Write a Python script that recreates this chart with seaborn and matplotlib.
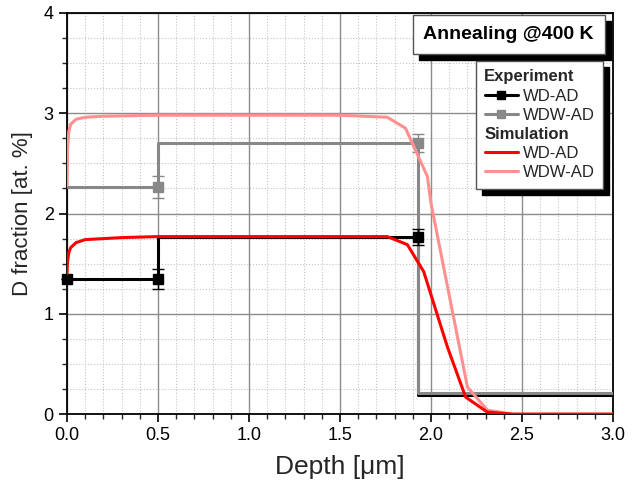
import numpy as np
import pandas as pd
import matplotlib.pyplot as plt
import seaborn as sns
from matplotlib.lines import Line2D
from matplotlib.patches import Rectangle
from matplotlib.ticker import MultipleLocator
from matplotlib import transforms

# experiment (step profiles)
exp_x = [0.0, 0.5, 0.5, 1.93, 1.93, 3.0]
wd_exp = [1.35, 1.35, 1.77, 1.77, 0.19, 0.19]
wdw_exp = [2.26, 2.26, 2.70, 2.70, 0.215, 0.215]

# experiment measured points with error bars
wd_pts_x = [0.0, 0.5, 1.93]
wd_pts_y = [1.35, 1.35, 1.77]
wd_pts_err = [0.0, 0.10, 0.08]
wdw_pts_x = [0.5, 1.93]
wdw_pts_y = [2.26, 2.70]
wdw_pts_err = [0.11, 0.09]

# simulation
sim_wd_x = [0.0, 0.003, 0.01, 0.02, 0.05, 0.1, 0.2, 0.3, 0.5, 1.0, 1.5, 1.76, 1.87, 1.96, 2.09, 2.19, 2.31, 2.45, 3.0]
sim_wd_y = [1.40, 1.52, 1.61, 1.66, 1.71, 1.74, 1.75, 1.76, 1.77, 1.77, 1.77, 1.77, 1.69, 1.42, 0.67, 0.17, 0.02, 0.0, 0.0]
sim_wdw_x = [0.0, 0.003, 0.01, 0.02, 0.05, 0.1, 0.2, 0.5, 1.0, 1.5, 1.76, 1.86, 1.98, 2.0, 2.2, 2.31, 2.45, 3.0]
sim_wdw_y = [2.28, 2.65, 2.82, 2.89, 2.94, 2.96, 2.97, 2.98, 2.98, 2.98, 2.96, 2.85, 2.37, 2.10, 0.27, 0.04, 0.0, 0.0]

headers = ["Experiment", "Simulation"]
series_labels = ["WD-AD", "WDW-AD"]

sns.set_style("ticks")
plt.rcParams['font.family'] = ['Liberation Sans', 'DejaVu Sans']

fig = plt.figure(figsize=(6.32, 4.96), dpi=100)
ax = fig.add_axes([0.106, 0.165, 0.864, 0.809])

red = "#ff0000"
pink = "#ff9090"
gray = "#888888"

sns.lineplot(x=exp_x, y=wd_exp, sort=False, estimator=None, color="black", lw=2.2, ax=ax, zorder=3)
sns.lineplot(x=exp_x, y=wdw_exp, sort=False, estimator=None, color=gray, lw=2.2, ax=ax, zorder=3)

ax.errorbar(wd_pts_x, wd_pts_y, yerr=wd_pts_err, fmt='s', color='black', ms=7,
            capsize=4, elinewidth=1, zorder=4, clip_on=False)
ax.errorbar(wdw_pts_x, wdw_pts_y, yerr=wdw_pts_err, fmt='s', color=gray, ms=7,
            capsize=4, elinewidth=1, zorder=4)

sns.lineplot(x=sim_wdw_x, y=sim_wdw_y, sort=False, estimator=None, color=pink, lw=2.2, ax=ax, zorder=5)
sns.lineplot(x=sim_wd_x, y=sim_wd_y, sort=False, estimator=None, color=red, lw=2.2, ax=ax, zorder=5)

ax.set_xlim(0, 3.0)
ax.set_ylim(0, 4)
ax.xaxis.set_major_locator(MultipleLocator(0.5))
ax.xaxis.set_minor_locator(MultipleLocator(0.1))
ax.yaxis.set_major_locator(MultipleLocator(1))
ax.yaxis.set_minor_locator(MultipleLocator(0.25))
ax.set_xticklabels([f"{v:.1f}" for v in ax.get_xticks()])
ax.grid(which='major', color='#8c8c8c', lw=1, ls='-')
ax.grid(which='minor', color='#c4c4c4', lw=0.8, ls=':')
ax.set_axisbelow(True)
for s in ax.spines.values():
    s.set_linewidth(1.3)
    s.set_color('black')
ax.tick_params(which='major', direction='out', length=6, width=1.2, labelsize=13, colors='black')
ax.tick_params(which='minor', direction='out', length=3.5, width=1)

ax.set_xlabel("Depth [\u03bcm]", fontsize=19, labelpad=8)
ax.set_ylabel("D fraction [at. %]", fontsize=16, labelpad=8)

# legend; header rows get blank labels, bold headers are placed after layout
blank = Line2D([], [], color='none')
handles = [blank,
           Line2D([], [], color='black', lw=2.2, marker='s', ms=6),
           Line2D([], [], color=gray, lw=2.2, marker='s', ms=6),
           blank,
           Line2D([], [], color=red, lw=2.2),
           Line2D([], [], color=pink, lw=2.2)]
labels = [" "] + series_labels + [" "] + series_labels
leg = ax.legend(handles, labels, loc='upper right', bbox_to_anchor=(0.982, 0.880),
                borderaxespad=0, fontsize=12, frameon=True, fancybox=False, handlelength=2.0,
                handletextpad=0.3, borderpad=0.5, labelspacing=0.25)
leg.get_frame().set_edgecolor('#555555')
leg.get_frame().set_linewidth(1)
leg.get_frame().set_alpha(1)
leg.set_zorder(10)

# title box
title = ax.text(0.965, 0.946, "Annealing @400 K", transform=ax.transAxes, ha='right', va='center',
                fontsize=14, fontweight='bold', color='black', zorder=11,
                bbox=dict(boxstyle='square,pad=0.55', fc='white', ec='#555555', lw=1))

fig.canvas.draw()
renderer = fig.canvas.get_renderer()
lbb = leg.get_window_extent()
ref_txt = leg.get_texts()[1].get_window_extent()
for i, name in zip([0, 3], headers):
    tb = leg.get_texts()[i].get_window_extent()
    yc = (ref_txt.y0 + ref_txt.y1) / 2 + (tb.y0 - ref_txt.y0)
    ax.text(lbb.x0 + 8, yc, name, transform=transforms.IdentityTransform(),
            ha='left', va='center', fontsize=12, fontweight='bold', zorder=11)

# black drop shadows behind legend and title box
for bb in [lbb, title.get_bbox_patch().get_window_extent(renderer)]:
    ax.add_artist(Rectangle((bb.x0 + 6, bb.y0 - 6), bb.width, bb.height,
                            transform=transforms.IdentityTransform(),
                            fc='black', ec='black', zorder=9.5, clip_on=False))

fig.savefig("out.png", dpi=100)
